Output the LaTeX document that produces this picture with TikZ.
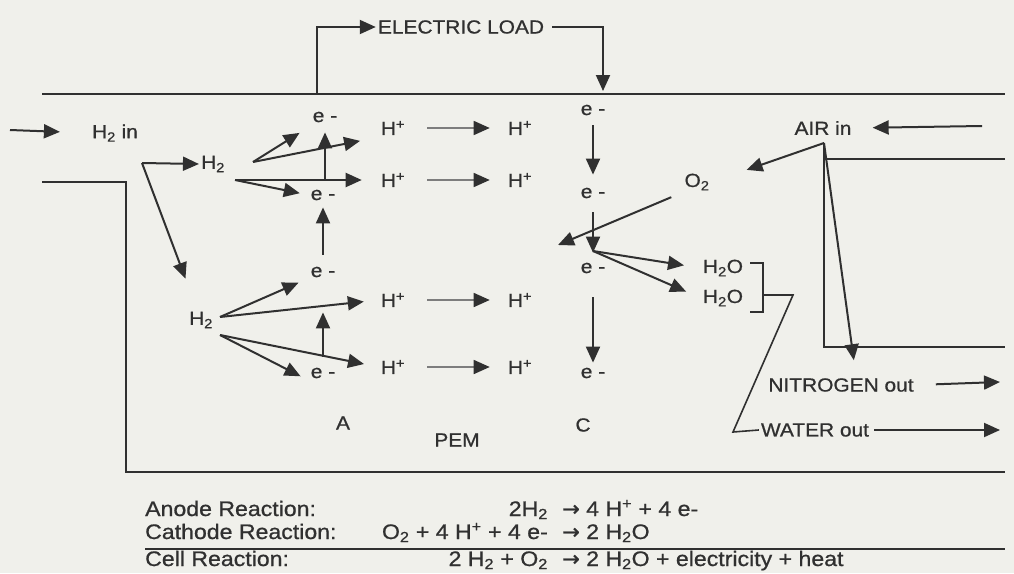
\documentclass[tikz,border=0pt]{standalone}
\usepackage{fontspec}
\setmainfont{Liberation Sans}
\newfontfamily\labelfont{Liberation Sans}[FakeStretch=1.1,FakeBold=0.8]
\newfontfamily\arrowfont{DejaVu Sans}[FakeBold=0.8]
\usetikzlibrary{arrows.meta}
\definecolor{paper}{RGB}{240,240,235}
\definecolor{ink}{RGB}{48,48,48}
\definecolor{faint}{RGB}{125,125,125}
\begin{document}
\begin{tikzpicture}[x=1pt,y=-1pt]
            \tikzset{
                lbl/.style={text=ink, inner sep=2pt, font=\labelfont\fontsize{19}{22}\selectfont},
                rxn/.style={text=ink, inner sep=0pt, font=\labelfont\fontsize{21}{24}\selectfont},
                flow/.style={draw=ink, line width=2pt, -{Triangle[length=16pt,width=14pt]}},
                ion/.style={draw=faint, line width=1.5pt, -{Triangle[length=16pt,width=14pt,color=ink]}},
                wall/.style={draw=ink, line width=2.4pt},
                rule/.style={draw=ink, line width=1.6pt}
            }
            \fill[paper] (0,0) rectangle (1014,573);
            \useasboundingbox (0,0) rectangle (1014,573);

            \draw[wall] (42,94) -- (1005,94);
            \draw[wall] (42,182) -| (126,472) -- (1005,472);
            \draw[wall] (1005,159) -- (824,159);
            \draw[wall] (824,143) -- (824,347) -- (1005,347);
            \draw[rule] (145,549) -- (1005,549);

            \coordinate (out) at (317,94);
            \coordinate (back) at (603,94);
            \coordinate (inL) at (10,130);
            \coordinate (feed) at (142,163);
            \coordinate (fa1) at (253,162);
            \coordinate (fa2) at (235,180);
            \coordinate (fb1) at (220,317);
            \coordinate (fb2) at (220,335);
            \coordinate (mix) at (558,245);
            \coordinate (react) at (593,251);
            \coordinate (apex) at (824,143);
            \coordinate (airR) at (982,126);
            \coordinate (nR) at (1000,382);
            \coordinate (wR) at (1000,430);

            \draw node[lbl] (eload) at (461,27) {ELECTRIC LOAD};
            \draw node[lbl] (h2in) at (115,133) {H\textsubscript{2} in};
            \draw node[lbl] (ha) at (213,164) {H\textsubscript{2}};
            \draw node[lbl] (hb) at (201,320) {H\textsubscript{2}};
            \draw node[lbl] (e1) at (325,117) {e -};
            \draw node[lbl] (e2) at (323,195) {e -};
            \draw node[lbl] (e3) at (323,272) {e -};
            \draw node[lbl] (e4) at (323,373) {e -};
            \draw node[lbl] (c1) at (593,110) {e -};
            \draw node[lbl] (c2) at (593,193) {e -};
            \draw node[lbl] (c3) at (593,268) {e -};
            \draw node[lbl] (c4) at (593,373) {e -};
            \draw node[lbl] (o2) at (697,182) {O\textsubscript{2}};
            \draw node[lbl] (w1) at (723,268) {H\textsubscript{2}O};
            \draw node[lbl] (w2) at (723,298) {H\textsubscript{2}O};
            \draw node[lbl] (air) at (823,128) {AIR in};
            \draw node[lbl] (nout) at (841,385) {NITROGEN out};
            \draw node[lbl] (wout) at (815,430) {WATER out};
            \draw node[lbl] (anA) at (343,423) {A};
            \draw node[lbl] (pem) at (457,440) {PEM};
            \draw node[lbl] (catC) at (583,425) {C};
            \foreach \n/\y in {1/128, 2/180, 3/300, 4/367}{
                \draw node[lbl] (pa\n) at (393,\y) {H\textsuperscript{+}};
                \draw node[lbl] (pc\n) at (520,\y) {H\textsuperscript{+}};
                \draw (pa\n) edge[ion, shorten <=20pt, shorten >=16pt] (pc\n);
            }

            \draw[flow] (out) |- (eload.west);
            \draw[flow, shorten <=6pt, shorten >=3pt] (eload.east) -| (back);
            \draw[flow, shorten >=30pt] (inL) -- (h2in.west);
            \draw[flow] (feed) -- (ha.west);
            \draw[flow, shorten >=33pt] (feed) -- (hb);
            \foreach \x/\y/\s in {%
                fa1/e1/16pt, fa1/pa1.south west/19pt, fa2/pa2.west/17pt, fa2/e2.west/9pt,%
                fb1/e3/11pt, fb1/pa3.west/15pt, fb2/pa4.west/15pt, fb2/e4.south west/9pt%
            }{
            \draw (\x) edge[flow, shorten >=\s] (\y);
            }
            \draw[flow, shorten >=8pt] (e1 |- fa2) -- (e1.south);
            \draw[flow, shorten <=10pt, shorten >=5pt] (e3.north) -- (e2.south);
            \draw[flow, shorten <=9pt, shorten >=33pt] (e4.north) -- (e3.south);
            \draw[flow, shorten <=8pt, shorten >=11pt] (c1) -- (c2);
            \draw[flow, shorten <=12pt, shorten >=8pt] (c2) -- (c3);
            \draw[flow, shorten <=22pt, shorten >=3pt] (c3) -- (c4);
            \draw[flow, shorten <=12pt] (o2.south west) -- (mix);
            \draw[flow, shorten >=17pt] (react) -- (w1.west);
            \draw[flow, shorten >=16pt] (react) -- (w2.west);
            \draw[rule] (750,263) -| (763,312) -- (750,312);
            \draw[rule] (763,295) -- (793,295) -- (733,432) -- (wout.west);
            \draw[flow, shorten >=19pt] (airR) -- (air.east);
            \draw[flow, shorten >=37pt] (apex) -- (o2.east);
            \draw[flow, shorten >=16pt] (apex) -- ([xshift=15pt]nout.north);
            \draw[flow, shorten <=20pt] (nout.east) -- (nR);
            \draw[flow, shorten <=3pt] (wout.east) -- (wR);

            \draw node[rxn, anchor=base west] (anode) at (145,516) {Anode Reaction:};
            \draw node[rxn, anchor=base west] (cathode) at (145,539) {Cathode Reaction:};
            \draw node[rxn, anchor=base west] (cell) at (145,566) {Cell Reaction:};
            \draw node[rxn, anchor=base east] (anL) at (548,516) {2H\textsubscript{2}};
            \draw node[rxn, anchor=base west] (anR) at (562,516) {{\arrowfont →} 4 H\textsuperscript{+} + 4 e-};
            \draw node[rxn, anchor=base east] (caL) at (548,539) {O\textsubscript{2} + 4 H\textsuperscript{+} + 4 e-};
            \draw node[rxn, anchor=base west] (caR) at (562,539) {{\arrowfont →} 2 H\textsubscript{2}O};
            \draw node[rxn, anchor=base east] (ceL) at (548,566) {2 H\textsubscript{2} + O\textsubscript{2}};
            \draw node[rxn, anchor=base west] (ceR) at (562,566) {{\arrowfont →} 2 H\textsubscript{2}O + electricity + heat};
        \end{tikzpicture}
\end{document}
